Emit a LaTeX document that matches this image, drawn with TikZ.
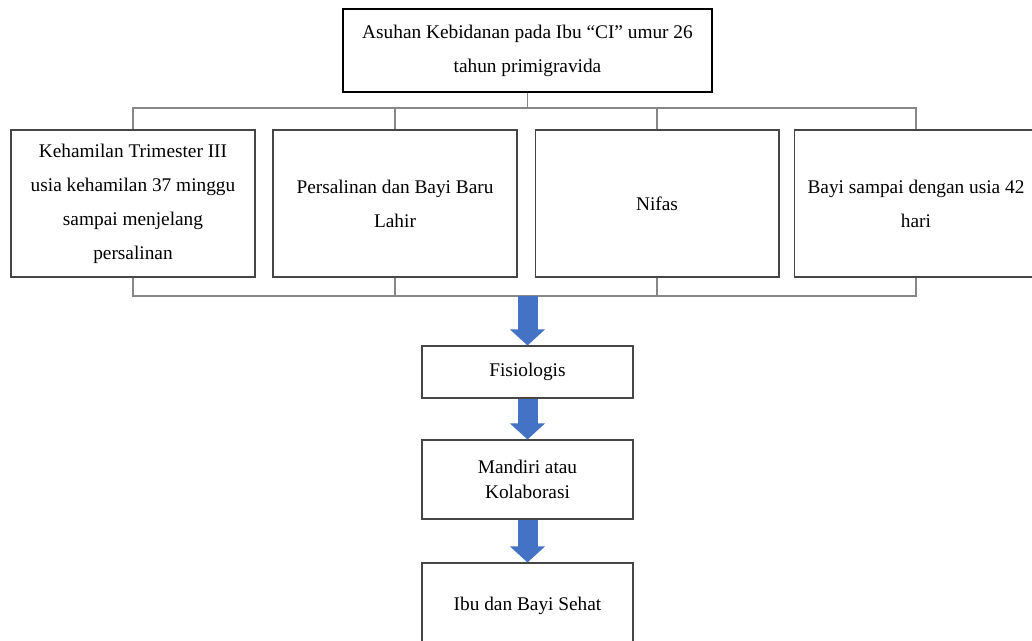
\documentclass[tikz,border=0pt]{standalone}
\usepackage{fontspec}
\setmainfont{Liberation Serif}
\usepackage{tikz}
\usetikzlibrary{arrows.meta, positioning}
\definecolor{boxgray}{RGB}{70,70,70}
\definecolor{linegray}{RGB}{135,135,135}
\definecolor{flowblue}{RGB}{68,114,196}

\begin{document}
\begin{tikzpicture}[x=0.02cm, y=-0.02cm,
    stage/.style={draw=boxgray, line width=0.6pt, fill=white, align=center,
        minimum width=4.88cm, minimum height=2.94cm, inner sep=0pt,
        font=\fontsize{11}{19.3}\selectfont},
    result/.style={draw=boxgray, line width=0.6pt, fill=white, align=center,
        minimum width=4.22cm, inner sep=0pt,
        font=\fontsize{11}{14.2}\selectfont},
    bus/.style={draw=linegray, line width=0.6pt},
    flow/.style={draw=flowblue, line width=0.4cm,
        -{Triangle[width=0.68cm, length=0.32cm]}}]
    \useasboundingbox (0,0) rectangle (1032,640);
    \clip (0,0) rectangle (1032,640);

    % main topic
    \node[draw=black, line width=1.2pt, align=center, minimum width=7.38cm,
        minimum height=1.66cm, inner sep=0pt,
        font=\fontsize{11}{19.3}\selectfont] (asuhan) at (527.5,50.5)
        {Asuhan Kebidanan pada Ibu ``CI'' umur 26\\tahun primigravida};

    % the four periods
    \node[stage] (hamil) at (133,203.5)
        {Kehamilan Trimester III\\usia kehamilan 37 minggu\\sampai menjelang\\persalinan};
    \node[stage] (salin) at (395,203.5) {Persalinan dan Bayi Baru\\Lahir};
    \node[stage] (nifas) at (657,203.5) {Nifas};
    \node[stage] (bayi) at (916,203.5) {Bayi sampai dengan usia 42\\hari};

    \coordinate (topbus) at (527.5,108);
    \coordinate (lowbus) at (527.5,296);

    \draw[bus] (asuhan.south) -- (topbus);
    \draw[bus] (hamil.north) |- (topbus) -| (bayi.north);
    \draw[bus] (salin.north) -- (salin.north |- topbus);
    \draw[bus] (nifas.north) -- (nifas.north |- topbus);

    \draw[bus] (hamil.south) |- (lowbus) -| (bayi.south);
    \draw[bus] (salin.south) -- (salin.south |- lowbus);
    \draw[bus] (nifas.south) -- (nifas.south |- lowbus);

    % outcome chain
    \node[result, minimum height=1.04cm] (fisio) at (527.5,372) {Fisiologis};
    \node[result, minimum height=1.58cm] (mandiri) at (527.5,479.5) {Mandiri atau\\Kolaborasi};
    \node[result, minimum height=1.7cm] (sehat) at (527.5,605.5) {Ibu dan Bayi Sehat};

    \draw[flow] (lowbus) -- (fisio.north);
    \draw[flow] (fisio.south) -- (mandiri.north);
    \draw[flow] (mandiri.south) -- (sehat.north);
\end{tikzpicture}
\end{document}
